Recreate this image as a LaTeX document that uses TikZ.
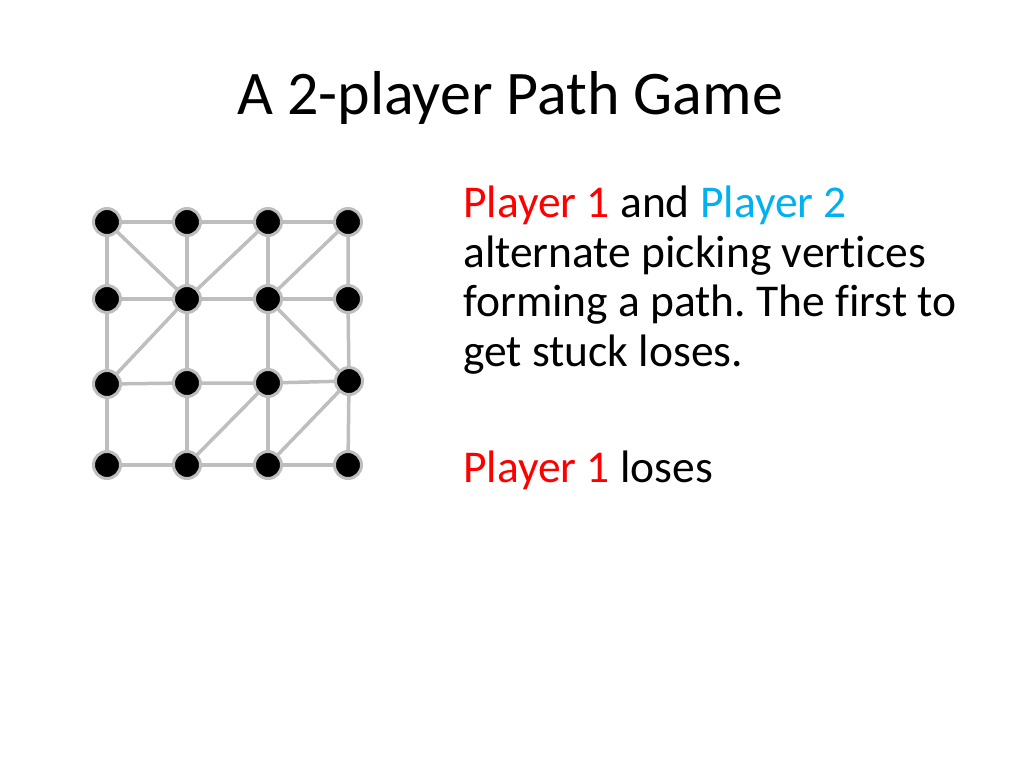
\documentclass[tikz,border=0pt]{standalone}
\usepackage{fontspec}
\setmainfont[Ligatures=NoCommon]{Carlito}
\definecolor{pr}{RGB}{255,0,0}
\definecolor{pb}{RGB}{0,176,240}
\definecolor{eg}{RGB}{190,190,190}
\begin{document}
\frenchspacing
\begin{tikzpicture}[x=1pt,y=-1pt,
  v/.style={circle,fill=black,draw=eg,line width=3pt,minimum size=27pt,inner sep=0pt},
  e/.style={draw=eg,line width=3.5pt}]
\useasboundingbox (0,0) rectangle (1024,768);
\node[anchor=west,inner sep=0pt,font=\fontsize{62}{70}\selectfont] (title) at (237,98) {A 2-player Path Game};
\node[anchor=north west,align=left,inner sep=0pt,font=\fontsize{45.5}{49.5}\selectfont] (txt) at (463,186)
{\textcolor{pr}{Player 1} and \textcolor{pb}{Player 2}\\alternate picking vertices\\forming a path. The first to\\get stuck loses.};
\node[anchor=west,inner sep=0pt,font=\fontsize{45.5}{50}\selectfont] (lose) at (463,470) {\textcolor{pr}{Player 1} loses};
\foreach \r/\y in {1/222,2/299,3/383,4/465}{
  \foreach \c/\x in {1/107,2/187,3/268,4/348}{
    \coordinate (p\r\c) at (\x,\y);
  }}
\coordinate (p31) at (107,384);
\coordinate (p34) at (349,381);
\foreach \r in {1,...,4}{
  \draw[e] (p\r1)--(p\r2)--(p\r3)--(p\r4);
  \draw[e] (p1\r)--(p2\r)--(p3\r)--(p4\r);
}
\draw[e] (p11)--(p22) (p22)--(p13) (p22)--(p31) (p23)--(p14) (p23)--(p34) (p33)--(p42) (p34)--(p43);
\foreach \r in {1,...,4}{\foreach \c in {1,...,4}{\node[v] (n\r\c) at (p\r\c) {};}}
\end{tikzpicture}
\end{document}
